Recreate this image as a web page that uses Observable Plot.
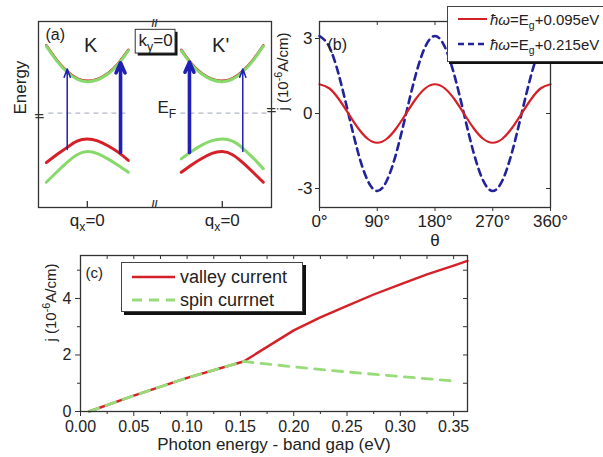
<!DOCTYPE html>
<html><head><meta charset="utf-8">
<script src="https://cdn.jsdelivr.net/npm/d3@7"></script>
<script src="https://cdn.jsdelivr.net/npm/@observablehq/plot@0.6"></script>
<style>
body{margin:0;background:#fff;}
#fig{position:relative;width:603px;height:457px;overflow:hidden;background:#fff;font-family:Arial,"Liberation Sans",sans-serif;color:#222;}
.pa{position:absolute;}
.pa svg{overflow:visible;}
.leg{position:absolute;background:#fff;border:1px solid #444;box-sizing:border-box;}
.row{position:absolute;left:0;display:flex;align-items:center;white-space:nowrap;}
.row svg{display:block;}
sub{font-size:70%;vertical-align:-0.35em;line-height:0;}
</style></head><body>
<div id="fig">
  <div id="pa" class="pa" style="left:0;top:0;width:276px;height:236px"></div>
  <div id="pb" class="pa" style="left:276px;top:0;width:327px;height:252px"></div>
  <div id="pc" class="pa" style="left:0;top:250px;width:603px;height:207px"></div>
  <div id="legB" class="leg" style="left:447px;top:6px;width:170px;height:56px;box-shadow:2px 2px 0 #111;font-size:15px;"></div>
  <div id="legC" class="leg" style="left:121px;top:262px;width:182px;height:50px;box-shadow:3px 3px 0 #111;font-size:18px;"></div>
</div>
<script>
// ---------- data: panel (a) schematic bands ----------
const qGrid = [-1, -0.75, -0.5, -0.25, 0, 0.25, 0.5, 0.75, 1];
const valleyOffset = 3.29; // K' centre relative to K centre (q units)
const kCond       = [2.09, 1.64, 1.29, 1.06, 0.98, 1.04, 1.22, 1.52, 1.95];
const kValRed     = [-1.55, -1.3, -1.08, -0.88, -0.81, -0.87, -1.02, -1.22, -1.48];
const kValGreen   = [-2.16, -1.85, -1.55, -1.3, -1.2, -1.27, -1.43, -1.63, -1.85];
const kpCond      = [1.95, 1.52, 1.22, 1.04, 0.98, 1.06, 1.29, 1.64, 2.09];
const kpValGreen  = [-1.43, -1.2, -1.0, -0.86, -0.81, -0.88, -1.1, -1.4, -1.74];
const kpValRed    = [-1.85, -1.62, -1.42, -1.26, -1.2, -1.3, -1.55, -1.85, -2.16];
const fermiSegments = [[-0.95, 1.0], [2.27, 4.45]];
const transitions = [
  {x: -0.49, from: -1.14, to: 1.38, kind: "thin"},
  {x: 0.81,  from: -1.23, to: 1.57, kind: "thick"},
  {x: 2.49,  from: -1.23, to: 1.59, kind: "thick"},
  {x: 3.79,  from: -1.20, to: 1.38, kind: "thin"}
];
const valleyTicks = [0, valleyOffset];
const valleyTickLabel = "q_{x}=0";

// ---------- data: panel (b) ----------
const theta = [0,15,30,45,60,75,90,105,120,135,150,165,180,195,210,225,240,255,270,285,300,315,330,345,360];
const jLow  = [1.17,1.01,0.58,0,-0.58,-1.01,-1.17,-1.01,-0.58,0,0.58,1.01,1.17,1.01,0.58,0,-0.58,-1.01,-1.17,-1.01,-0.58,0,0.58,1.01,1.17];
const jHigh = [3.1,2.68,1.55,0,-1.55,-2.68,-3.1,-2.68,-1.55,0,1.55,2.68,3.1,2.68,1.55,0,-1.55,-2.68,-3.1,-2.68,-1.55,0,1.55,2.68,3.1];
const thetaTicks = [0, 90, 180, 270, 360];
const jTicksB = [-3, 0, 3];
const legendB = ["ħω=E_g+0.095eV", "ħω=E_g+0.215eV"];

// ---------- data: panel (c) ----------
const eValley = [0.008, 0.05, 0.10, 0.153, 0.20, 0.225, 0.25, 0.275, 0.30, 0.325, 0.35, 0.363];
const jValley = [0, 0.56, 1.19, 1.77, 2.87, 3.33, 3.74, 4.14, 4.5, 4.85, 5.16, 5.33];
const eSpin   = [0.008, 0.05, 0.10, 0.153, 0.20, 0.25, 0.30, 0.354];
const jSpin   = [0, 0.56, 1.19, 1.77, 1.58, 1.40, 1.24, 1.07];
const cTicksX = [0, 0.05, 0.10, 0.15, 0.20, 0.25, 0.30, 0.35];
const cMinorX = [0.025, 0.075, 0.125, 0.175, 0.225, 0.275, 0.325];
const cTopX   = [0.025,0.05,0.075,0.10,0.125,0.15,0.175,0.20,0.225,0.25,0.275,0.30,0.325,0.35];
const cTicksY = [0, 2, 4];
const cMinorY = [1, 3, 5];
const legendC = ["valley current", "spin currnet"];

// ---------- styles ----------
const FONT = 'Arial, "Liberation Sans", sans-serif';
const RED = "#d62028", GREEN = "#86d96a", GREEN_C = "#98dc7a", NAVY = "#22229a", ARROW = "#2020b4", FRAME = "#333";
const baseStyle = {fontFamily: FONT, fontSize: "16px", color: "#222", background: "transparent", overflow: "visible"};

function rich(svg) {
  svg.querySelectorAll("text").forEach(t => {
    const s = t.textContent;
    if (!/[_^]\{/.test(s)) return;
    const fs = parseFloat(getComputedStyle(t).fontSize) || 16;
    while (t.firstChild) t.removeChild(t.firstChild);
    const parts = s.split(/([_^]\{[^}]*\})/).filter(p => p !== "");
    let off = 0;
    for (const p of parts) {
      const sp = document.createElementNS("http://www.w3.org/2000/svg", "tspan");
      let target = 0;
      if (p.startsWith("_{")) { sp.textContent = p.slice(2, -1); sp.setAttribute("font-size", fs * 0.72); target = fs * 0.3; }
      else if (p.startsWith("^{")) { sp.textContent = p.slice(2, -1); sp.setAttribute("font-size", fs * 0.72); target = -fs * 0.42; }
      else sp.textContent = p;
      const dy = target - off;
      if (dy) sp.setAttribute("dy", dy);
      off = target;
      t.appendChild(sp);
    }
  });
}

// ---------- panel (a) ----------
const band = (vals, offset) => qGrid.map((q, i) => ({x: q + offset, e: vals[i]}));
const frameHA = 236 - 21 - 29;
const plotA = Plot.plot({
  width: 276, height: 236, marginLeft: 38, marginRight: 5, marginTop: 21, marginBottom: 29,
  x: {domain: [-1.19, 4.49], label: null}, y: {domain: [-2.95, 2.86], axis: null, label: null},
  style: baseStyle,
  marks: [
    Plot.link(fermiSegments, {x1: d => d[0], x2: d => d[1], y1: () => 0, y2: () => 0, stroke: "#b4b8ca", strokeWidth: 1.3, strokeDasharray: "5,4"}),
    Plot.line(band(kCond, 0), {x: "x", y: "e", curve: "natural", stroke: RED, strokeWidth: 2.6, dy: -0.8}),
    Plot.line(band(kCond, 0), {x: "x", y: "e", curve: "natural", stroke: GREEN, strokeWidth: 3}),
    Plot.line(band(kValGreen, 0), {x: "x", y: "e", curve: "natural", stroke: GREEN, strokeWidth: 3}),
    Plot.line(band(kValRed, 0), {x: "x", y: "e", curve: "natural", stroke: RED, strokeWidth: 3}),
    Plot.line(band(kpCond, valleyOffset), {x: "x", y: "e", curve: "natural", stroke: RED, strokeWidth: 2.6, dy: -0.8}),
    Plot.line(band(kpCond, valleyOffset), {x: "x", y: "e", curve: "natural", stroke: GREEN, strokeWidth: 3}),
    Plot.line(band(kpValRed, valleyOffset), {x: "x", y: "e", curve: "natural", stroke: RED, strokeWidth: 3}),
    Plot.line(band(kpValGreen, valleyOffset), {x: "x", y: "e", curve: "natural", stroke: GREEN, strokeWidth: 3}),
    Plot.arrow(transitions.filter(d => d.kind === "thin"), {x1: "x", x2: "x", y1: "from", y2: "to", stroke: ARROW, strokeWidth: 1.5, headLength: 9, headAngle: 40}),
    Plot.arrow(transitions.filter(d => d.kind === "thick"), {x1: "x", x2: "x", y1: "from", y2: "to", stroke: ARROW, strokeWidth: 3.6, headLength: 4.6, headAngle: 48}),
    Plot.frame({stroke: FRAME, strokeWidth: 1.3}),
    Plot.tickX(valleyTicks, {x: d => d, insetTop: frameHA - 6, stroke: FRAME, strokeWidth: 1.3}),
    Plot.axisX(valleyTicks, {tickSize: 0, tickPadding: 6, tickFormat: () => valleyTickLabel, fontSize: 17, label: null}),
    Plot.text(["//"], {x: () => 1.64, frameAnchor: "top", dy: -2, fontSize: 11, fontWeight: "bold", fill: FRAME}),
    Plot.text(["//"], {x: () => 1.64, frameAnchor: "bottom", fontSize: 11, fontWeight: "bold", fill: FRAME}),
    Plot.text(["//"], {y: () => 0, frameAnchor: "left", rotate: 80, fontSize: 11, fontWeight: "bold", fill: FRAME}),
    Plot.text(["//"], {y: () => 0, frameAnchor: "right", rotate: 80, fontSize: 11, fontWeight: "bold", fill: FRAME}),
    Plot.text(["Energy"], {frameAnchor: "left", dx: -18, rotate: -90, fontSize: 17}),
    Plot.text(["(a)"], {x: () => -1.02, y: () => 2.45, textAnchor: "start", fontSize: 16}),
    Plot.text(["K"], {x: () => 0.08, y: () => 2.1, fontSize: 20}),
    Plot.text(["K'"], {x: () => valleyOffset - 0.04, y: () => 2.1, fontSize: 20}),
    Plot.rect([0], {x1: () => 1.18, x2: () => 2.15, y1: () => 1.86, y2: () => 2.6, fill: "#111", dx: 2.5, dy: 2.5}),
    Plot.rect([0], {x1: () => 1.18, x2: () => 2.15, y1: () => 1.86, y2: () => 2.6, fill: "#fff", stroke: FRAME, strokeWidth: 1}),
    Plot.text(["k_{y}=0"], {x: () => 1.665, y: () => 2.28, fontSize: 17}),
    Plot.text(["E_{F}"], {x: () => 1.71, y: () => 0.16, textAnchor: "start", fontSize: 17})
  ]
});
document.getElementById("pa").appendChild(plotA);
rich(plotA);

// ---------- panel (b) ----------
const thetaData = theta.map((t, i) => ({theta: t, low: jLow[i], high: jHigh[i]}));
const frameWB = 327 - 43 - 53, frameHB = 252 - 21 - 45;
const plotB = Plot.plot({
  width: 327, height: 252, marginLeft: 43, marginRight: 53, marginTop: 21, marginBottom: 45,
  x: {domain: [0, 360], label: null}, y: {domain: [-3.76, 3.68], label: null},
  style: baseStyle,
  marks: [
    Plot.line(thetaData, {x: "theta", y: "high", curve: "natural", stroke: NAVY, strokeWidth: 2.6, strokeDasharray: "7,5"}),
    Plot.line(thetaData, {x: "theta", y: "low", curve: "natural", stroke: RED, strokeWidth: 2.2}),
    Plot.frame({stroke: FRAME, strokeWidth: 1.3}),
    Plot.axisX(thetaTicks, {tickSize: 4, tickPadding: 3, tickFormat: d => d + "°", fontSize: 17, stroke: FRAME, label: null}),
    Plot.tickX(thetaTicks, {x: d => d, insetBottom: frameHB - 4, stroke: FRAME}),
    Plot.axisY(jTicksB, {tickSize: 4, tickPadding: 3, tickFormat: d => String(d), fontSize: 17, stroke: FRAME, label: null}),
    Plot.tickY(jTicksB, {y: d => d, insetLeft: frameWB - 4, stroke: FRAME}),
    Plot.text(["θ"], {frameAnchor: "bottom", dy: 38, fontSize: 17}),
    Plot.text(["j (10^{-6}A/cm)"], {frameAnchor: "left", dx: -36, dy: -4, rotate: -90, fontSize: 15}),
    Plot.text(["(b)"], {frameAnchor: "top-left", dx: 8, dy: 17, textAnchor: "start", fontSize: 16})
  ]
});
document.getElementById("pb").appendChild(plotB);
rich(plotB);

// ---------- panel (c) ----------
const valleyData = eValley.map((e, i) => ({e, j: jValley[i]}));
const spinData = eSpin.map((e, i) => ({e, j: jSpin[i]}));
const frameWC = 603 - 80 - 136, frameHC = 207 - 5 - 46;
const plotC = Plot.plot({
  width: 603, height: 207, marginLeft: 80, marginRight: 136, marginTop: 5, marginBottom: 46,
  x: {domain: [0, 0.363], label: null}, y: {domain: [0, 5.52], label: null},
  style: baseStyle,
  marks: [
    Plot.line(valleyData, {x: "e", y: "j", stroke: RED, strokeWidth: 2.4}),
    Plot.line(spinData, {x: "e", y: "j", stroke: GREEN_C, strokeWidth: 2.8, strokeDasharray: "10,8"}),
    Plot.frame({stroke: FRAME, strokeWidth: 1.3}),
    Plot.axisX(cTicksX, {tickSize: 5, tickPadding: 4, tickFormat: d3.format(".2f"), fontSize: 16, stroke: FRAME, label: null}),
    Plot.axisX(cMinorX, {tickSize: 3, tickFormat: () => "", stroke: FRAME, label: null}),
    Plot.tickX(cTopX, {x: d => d, insetBottom: frameHC - 4, stroke: FRAME}),
    Plot.axisY(cTicksY, {tickSize: 5, tickPadding: 4, tickFormat: d => String(d), fontSize: 16, stroke: FRAME, label: null}),
    Plot.axisY(cMinorY, {tickSize: 3, tickFormat: () => "", stroke: FRAME, label: null}),
    Plot.tickY([...cTicksY, ...cMinorY].filter(d => d > 0), {y: d => d, insetLeft: frameWC - 4, stroke: FRAME}),
    Plot.text(["Photon energy - band gap (eV)"], {frameAnchor: "bottom", dy: 38, fontSize: 17}),
    Plot.text(["j (10^{-6}A/cm)"], {frameAnchor: "left", dx: -29, dy: 8, rotate: -90, fontSize: 15}),
    Plot.text(["(c)"], {frameAnchor: "top-left", dx: 5, dy: 12, textAnchor: "start", fontSize: 15})
  ]
});
document.getElementById("pc").appendChild(plotC);
rich(plotC);

// ---------- legends ----------
function sample(w, color, sw, dash) {
  return `<svg width="${w}" height="8"><line x1="0" x2="${w}" y1="4" y2="4" stroke="${color}" stroke-width="${sw}" ${dash ? `stroke-dasharray="${dash}"` : ""}/></svg>`;
}
const fmt = s => s.replace(/_(\w)/, "<sub>$1</sub>").replace("ħω", "<i>ħω</i>");
document.getElementById("legB").innerHTML =
  `<div class="row" style="top:2px;height:20px;left:10px">${sample(29, RED, 2, null)}<span style="margin-left:3px">${fmt(legendB[0])}</span></div>` +
  `<div class="row" style="top:27px;height:20px;left:10px">${sample(29, NAVY, 2.4, "6,4")}<span style="margin-left:3px">${fmt(legendB[1])}</span></div>`;
document.getElementById("legC").innerHTML =
  `<div class="row" style="top:3px;height:22px;left:10px">${sample(43, RED, 2.4, null)}<span style="margin-left:5px">${legendC[0]}</span></div>` +
  `<div class="row" style="top:26px;height:22px;left:10px">${sample(43, GREEN_C, 2.8, "10,7")}<span style="margin-left:5px">${legendC[1]}</span></div>`;
</script>
</body></html>
